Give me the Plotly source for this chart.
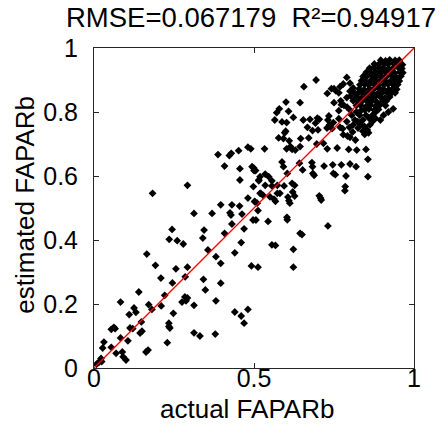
import plotly.graph_objects as go

# actual vs estimated FAPARb
actual = [
    0.183, 0.3125, 0.369, 0.396, 0.431, 0.455, 0.425, 0.428, 0.481, 0.4625,
    0.503, 0.510, 0.431, 0.469, 0.497, 0.408, 0.344, 0.340, 0.244, 0.235,
    0.260, 0.279, 0.356, 0.381, 0.396, 0.440, 0.460, 0.492, 0.5125, 0.165,
    0.192, 0.209, 0.256, 0.292, 0.245, 0.285, 0.342, 0.348, 0.396, 0.381,
    0.284, 0.292, 0.221, 0.2875, 0.3125, 0.275, 0.140, 0.083, 0.125, 0.131,
    0.110, 0.171, 0.181, 0.210, 0.248, 0.148, 0.1125, 0.121, 0.144, 0.150,
    0.083, 0.106, 0.0885, 0.091, 0.069, 0.100, 0.1625, 0.169, 0.229, 0.234,
    0.234, 0.237, 0.3125, 0.331, 0.379, 0.054, 0.062, 0.066, 0.031, 0.027,
    0.054, 0.022, 0.024, 0.015, 0.008, 0.440, 0.460, 0.469, 0.481,
    # middle band
    0.623, 0.623, 0.556, 0.567, 0.644, 0.650, 0.731, 0.603, 0.604, 0.544,
    0.506, 0.5125, 0.502, 0.521, 0.5625, 0.567, 0.573, 0.606, 0.609, 0.612,
    0.627, 0.704, 0.708, 0.710, 0.784,
    0.292, 0.3875, 0.408, 0.423, 0.429, 0.452, 0.481, 0.490, 0.456, 0.494,
    0.500, 0.456, 0.515, 0.519,
    0.533, 0.499, 0.505, 0.519, 0.535, 0.546, 0.556, 0.515, 0.535, 0.556,
    0.573, 0.594, 0.592, 0.604, 0.619, 0.627, 0.621, 0.581, 0.5875, 0.602,
    0.614, 0.619, 0.629, 0.644, 0.642, 0.652, 0.684, 0.688, 0.683, 0.681,
    0.719, 0.746, 0.748, 0.754, 0.773, 0.800, 0.819, 0.7875, 0.856, 0.785,
    0.856, 0.850, 0.821, 0.796, 0.760, 0.729, 0.717, 0.696, 0.671, 0.646,
    0.610, 0.592, 0.577, 0.599, 0.596, 0.602, 0.5875, 0.654, 0.675, 0.692,
    0.683, 0.700, 0.704, 0.698, 0.667, 0.623, 0.571, 0.565, 0.579, 0.600,
    0.644, 0.608, 0.656, 0.694, 0.729, 0.742, 0.750, 0.756, 0.765, 0.769,
    0.771, 0.773, 0.750, 0.779, 0.790, 0.781, 0.800, 0.765, 0.765, 0.734,
    0.731, 0.748, 0.769, 0.777, 0.728, 0.736, 0.744, 0.798, 0.808, 0.800,
    0.817, 0.779, 0.792, 0.824, 0.833, 0.840, 0.846, 0.8625, 0.854, 0.858,
    0.550, 0.529, 0.498,
    0.800, 0.810, 0.815, 0.802, 0.810, 0.820, 0.791, 0.805, 0.820, 0.830,
    0.815, 0.790, 0.840, 0.850, 0.860, 0.870, 0.835, 0.800, 0.790, 0.825,
    0.810, 0.845, 0.870, 0.880, 0.905, 0.920, 0.935, 0.895, 0.880,
    # dense cluster
    0.896, 0.911, 0.924, 0.941, 0.954,
    0.876, 0.889, 0.906, 0.919, 0.936, 0.949, 0.964,
    0.861, 0.874, 0.891, 0.904, 0.921, 0.934, 0.951, 0.962,
    0.851, 0.866, 0.879, 0.896, 0.909, 0.926, 0.939, 0.956, 0.965,
    0.841, 0.854, 0.871, 0.884, 0.901, 0.914, 0.931, 0.944, 0.959,
    0.836, 0.849, 0.866, 0.879, 0.896, 0.909, 0.926, 0.939, 0.954,
    0.831, 0.846, 0.859, 0.876, 0.889, 0.906, 0.919, 0.936, 0.949,
    0.829, 0.844, 0.861, 0.874, 0.891, 0.904, 0.921, 0.934, 0.946,
    0.826, 0.839, 0.856, 0.869, 0.886, 0.899, 0.916, 0.929, 0.941,
    0.821, 0.836, 0.849, 0.866, 0.879, 0.896, 0.909, 0.924,
    0.826, 0.839, 0.856, 0.869, 0.884, 0.901, 0.914,
    0.834, 0.851, 0.864, 0.881, 0.894, 0.911,
    0.846, 0.859, 0.876, 0.889,
]
estimated = [
    0.546, 0.483, 0.483, 0.510, 0.510, 0.506, 0.485, 0.478, 0.531, 0.481,
    0.519, 0.515, 0.450, 0.435, 0.4625, 0.421, 0.431, 0.406, 0.433, 0.402,
    0.398, 0.3875, 0.369, 0.348, 0.327, 0.360, 0.392, 0.319, 0.315, 0.356,
    0.321, 0.281, 0.310, 0.315, 0.266, 0.285, 0.277, 0.244, 0.265, 0.210,
    0.222, 0.219, 0.227, 0.210, 0.196, 0.206, 0.2375, 0.206, 0.1875, 0.174,
    0.167, 0.198, 0.183, 0.194, 0.171, 0.144, 0.125, 0.123, 0.109, 0.115,
    0.094, 0.085, 0.050, 0.035, 0.046, 0.025, 0.050, 0.056, 0.079, 0.140,
    0.130, 0.125, 0.110, 0.100, 0.106, 0.121, 0.127, 0.123, 0.081, 0.0625,
    0.0646, 0.030, 0.020, 0.018, 0.012, 0.175, 0.1625, 0.140, 0.183,
    # middle band
    0.315, 0.371, 0.385, 0.383, 0.421, 0.417, 0.444, 0.471, 0.463, 0.458,
    0.4625, 0.492, 0.521, 0.546, 0.528, 0.521, 0.546, 0.534, 0.523, 0.515,
    0.5375, 0.538, 0.531, 0.525, 0.554,
    0.571, 0.667, 0.631, 0.664, 0.671, 0.679, 0.690, 0.685, 0.623, 0.629,
    0.617, 0.5875, 0.5875, 0.546,
    0.685, 0.625, 0.617, 0.598, 0.606, 0.598, 0.585, 0.585, 0.571, 0.569,
    0.571, 0.569, 0.629, 0.608, 0.577, 0.571, 0.550, 0.546, 0.644, 0.685,
    0.692, 0.683, 0.681, 0.692, 0.640, 0.619, 0.608, 0.602, 0.629, 0.642,
    0.631, 0.635, 0.608, 0.604, 0.635, 0.6375, 0.629, 0.600, 0.598, 0.567,
    0.652, 0.683, 0.681, 0.683, 0.6875, 0.685, 0.702, 0.700, 0.719, 0.717,
    0.710, 0.717, 0.719, 0.740, 0.735, 0.767, 0.769, 0.775, 0.777, 0.765,
    0.742, 0.744, 0.777, 0.781, 0.752, 0.783, 0.798, 0.775, 0.810, 0.831,
    0.829, 0.802, 0.879, 0.900, 0.858, 0.873, 0.873, 0.866, 0.860, 0.879,
    0.835, 0.823, 0.829, 0.8875, 0.908, 0.821, 0.806, 0.804, 0.779, 0.7875,
    0.775, 0.767, 0.752, 0.748, 0.750, 0.760, 0.748, 0.752, 0.7375, 0.721,
    0.7125, 0.729, 0.725, 0.770, 0.760, 0.740, 0.730, 0.760, 0.744, 0.735,
    0.535, 0.539, 0.567,
    0.890, 0.875, 0.860, 0.850, 0.835, 0.820, 0.815, 0.790, 0.800, 0.790,
    0.775, 0.770, 0.775, 0.790, 0.780, 0.790, 0.805, 0.865, 0.845, 0.750,
    0.760, 0.755, 0.770, 0.780, 0.790, 0.800, 0.810, 0.775, 0.800,
    # dense cluster
    0.962, 0.960, 0.963, 0.961, 0.962,
    0.950, 0.948, 0.951, 0.949, 0.952, 0.950, 0.948,
    0.937, 0.939, 0.936, 0.938, 0.935, 0.937, 0.939, 0.936,
    0.924, 0.922, 0.925, 0.923, 0.926, 0.924, 0.922, 0.925, 0.923,
    0.911, 0.913, 0.910, 0.912, 0.909, 0.911, 0.913, 0.910, 0.912,
    0.898, 0.896, 0.899, 0.897, 0.900, 0.898, 0.896, 0.899, 0.897,
    0.885, 0.887, 0.884, 0.886, 0.883, 0.885, 0.887, 0.884, 0.886,
    0.872, 0.870, 0.873, 0.871, 0.874, 0.872, 0.870, 0.873, 0.871,
    0.859, 0.861, 0.858, 0.860, 0.857, 0.859, 0.861, 0.858, 0.860,
    0.846, 0.844, 0.847, 0.845, 0.848, 0.846, 0.844, 0.847,
    0.833, 0.835, 0.832, 0.834, 0.831, 0.833, 0.835,
    0.820, 0.818, 0.821, 0.819, 0.822, 0.820,
    0.807, 0.809, 0.806, 0.808,
]

one_to_one = [0, 1]

x_ticks = [0, 0.5, 1]
x_tick_text = ["0", "0.5", "1"]
y_ticks = [0, 0.2, 0.4, 0.6, 0.8, 1]
y_tick_text = ["0", "0.2", "0.4", "0.6", "0.8", "1"]

font = "Liberation Sans, Arial, sans-serif"
frame = "#262626"
tick_font = dict(family=font, size=25, color="black")
label_font = dict(family=font, size=26, color="black")

fig = go.Figure()
fig.add_trace(go.Scatter(x=actual, y=estimated, mode="markers",
                         marker=dict(symbol="diamond", size=6, color="black", line=dict(width=0)),
                         showlegend=False))
fig.add_trace(go.Scatter(x=one_to_one, y=one_to_one, mode="lines",
                         line=dict(color="#ff0000", width=1.3), showlegend=False))
# empty trace so the overlay axis carrying the x tick labels gets drawn
fig.add_trace(go.Scatter(x=[], y=[], xaxis="x2", yaxis="y", showlegend=False, hoverinfo="skip"))

axis_style = dict(range=[0, 1], showgrid=False, zeroline=False, showline=True, linecolor=frame,
                  linewidth=1, mirror="ticks", ticks="inside", ticklen=5, tickcolor=frame,
                  tickangle=0, automargin=False)

# main x axis: frame + ticks only, labels come from the overlay axis below
fig.update_xaxes(tickvals=x_ticks, showticklabels=False, **axis_style)
fig.update_yaxes(tickvals=y_ticks, ticktext=y_tick_text, tickfont=tick_font,
                 ticklabelstandoff=10, **axis_style)

centre = dict(xref="paper", yref="paper", xanchor="center", yanchor="middle", showarrow=False)
fig.update_layout(
    # page body adds an 8px margin, so the figure is 8px smaller than the window
    width=440, height=431,
    margin=dict(l=86, r=34, t=40, b=71),
    paper_bgcolor="white", plot_bgcolor="white",
    xaxis2=dict(overlaying="x", anchor="free", position=0.022, range=[0, 1], side="bottom",
                tickvals=x_ticks, ticktext=x_tick_text, tickfont=tick_font, tickangle=0,
                showline=False, ticks="", showgrid=False, zeroline=False, automargin=False),
    annotations=[
        dict(text="RMSE=0.067179  R²=0.94917", x=0.49, y=1.094,
             font=dict(family=font, size=27.5, color="black"), **centre),
        dict(text="actual FAPARb", x=0.477, y=-0.128, font=label_font, **centre),
        dict(text="estimated FAPARb", x=-0.216, y=0.51, textangle=-90, font=label_font, **centre),
        # clipped ylabel of the neighbouring panel at the right edge
        dict(text="estimated FAPARb", x=1.128, y=0.45, textangle=-90, font=label_font, **centre),
    ],
)

fig.write_html("out.html")
